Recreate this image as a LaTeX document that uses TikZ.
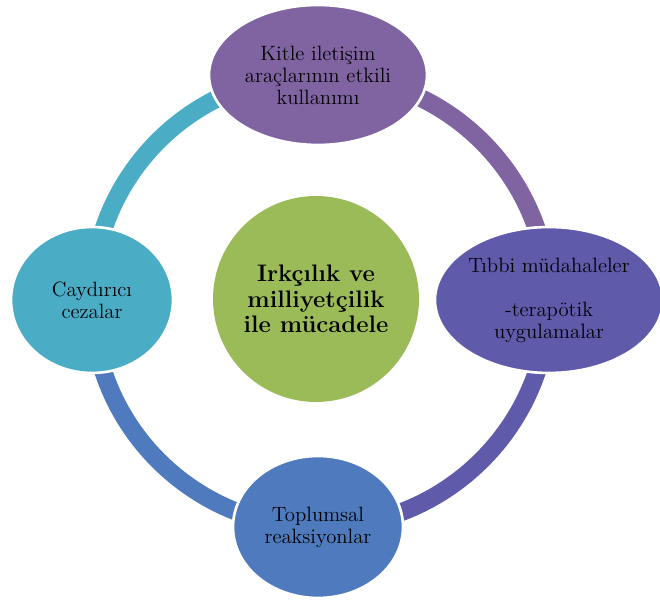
\documentclass[tikz,border=0pt]{standalone}
\usepackage{tikz}
\usetikzlibrary{shapes.geometric,backgrounds}
\definecolor{kitlepurple}{HTML}{8064A2}
\definecolor{tibbiviolet}{HTML}{5F5AAA}
\definecolor{toplumblue}{HTML}{4F7BBE}
\definecolor{cezateal}{HTML}{4BACC6}
\definecolor{hubgreen}{HTML}{9BBB59}

\begin{document}
\begin{tikzpicture}[x=0.02cm, y=0.02cm]
    \tikzstyle{outer}=[ellipse, draw=white, line width=1.5pt, inner sep=0pt, align=center, font=\fontsize{11.8}{12.5}\selectfont]
    \tikzstyle{hub}=[circle, fill=hubgreen, inner sep=0pt, minimum size=4.12cm, align=center, font=\fontsize{13.6}{14.4}\selectfont\bfseries]
    \tikzstyle{ring}=[line width=0.36cm, bend left=45]

      \useasboundingbox (0,0) rectangle (660,601);
      \node[hub] (hub) at (316,302) {Irkçılık ve\\milliyetçilik\\ile mücadele};
      \node[outer, fill=kitlepurple, minimum width=4.36cm, minimum height=2.8cm] (kitle) at (318,526) {Kitle iletişim\\araçlarının etkili\\kullanımı};
      \node[outer, fill=tibbiviolet, minimum width=4.52cm, minimum height=2.92cm] (tibbi) at (549,301) {Tıbbi müdahaleler\\[12.5pt]-terapötik\\uygulamalar};
      \node[outer, fill=toplumblue, minimum width=3.4cm, minimum height=2.84cm] (toplum) at (318,74) {Toplumsal\\reaksiyonlar};
      \node[outer, fill=cezateal, minimum width=3.24cm, minimum height=2.92cm] (ceza) at (92,301) {Caydırıcı\\cezalar};
      \begin{scope}[on background layer]
        \path
          (kitle.center) edge [ring, kitlepurple] (tibbi.center)
          (tibbi.center) edge [ring, tibbiviolet] (toplum.center)
          (toplum.center) edge [ring, toplumblue] (ceza.center)
          (ceza.center) edge [ring, cezateal] (kitle.center);
      \end{scope}
    \end{tikzpicture}
\end{document}
